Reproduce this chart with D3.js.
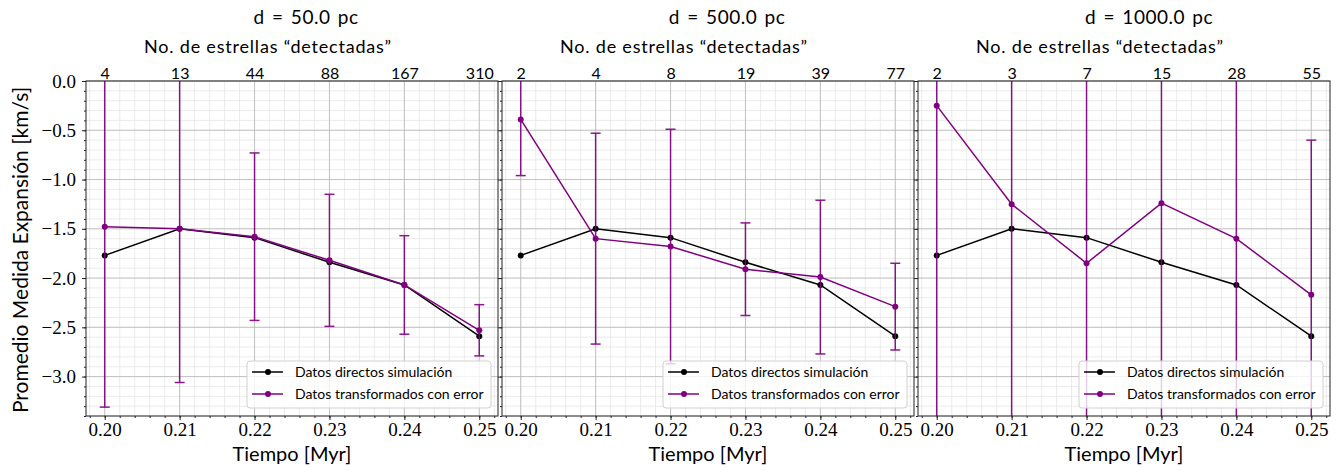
<!DOCTYPE html>
<html>
<head>
<meta charset="utf-8">
<script src="https://cdn.jsdelivr.net/npm/d3@7"></script>
<style>
  body { margin: 0; background: #fff; }
  .sans { font-family: Lato, 'Noto Sans', sans-serif; fill: #000; }
  .tick line { stroke: #222; }
</style>
</head>
<body>
<div id="chart-area"></div>
<script>
var tiempo = [0.20, 0.21, 0.22, 0.23, 0.24, 0.25]
var directos = [-1.77, -1.50, -1.59, -1.84, -2.07, -2.59]

var distancias = ['50.0', '500.0', '1000.0']

var estrellas50 = [4, 13, 44, 88, 167, 310]
var media50 = [-1.48, -1.50, -1.58, -1.82, -2.07, -2.53]
var error50 = [1.83, 1.56, 0.85, 0.67, 0.50, 0.26]

var estrellas500 = [2, 4, 8, 19, 39, 77]
var media500 = [-0.39, -1.60, -1.68, -1.91, -1.99, -2.29]
var error500 = [0.57, 1.07, 1.19, 0.47, 0.78, 0.44]

var estrellas1000 = [2, 3, 7, 15, 28, 55]
var media1000 = [-0.25, -1.25, -1.85, -1.24, -1.60, -2.17]
var error1000 = [3.6, 2.7, 2.4, 2.6, 2.3, 1.57]

var leyenda = ['Datos directos simulación', 'Datos transformados con error']

var paneles = [
	{ d: distancias[0], estrellas: estrellas50, media: media50, error: error50 },
	{ d: distancias[1], estrellas: estrellas500, media: media500, error: error500 },
	{ d: distancias[2], estrellas: estrellas1000, media: media1000, error: error1000 }
]

var margin = { top: 81, left: 86 }
var ancho = 412
var alto = 335
var paso = 416
var morado = '#800080'
var serif = "'Liberation Serif', 'DejaVu Serif', serif"
var sans = "Lato, 'Noto Sans', sans-serif"

var svg = d3.select('#chart-area').append('svg')
	.attr('width', 1344)
	.attr('height', 472)

svg.append('defs').append('clipPath').attr('id', 'clip')
	.append('rect').attr('width', ancho).attr('height', alto)

var x = d3.scaleLinear().domain([0.1975, 0.2525]).range([0, ancho])
var y = d3.scaleLinear().domain([-3.4, 0]).range([alto, 0])

var linea = d3.line().x((d, i) => x(tiempo[i])).y(d => y(d))

var dxTitulo = [14, 19, 25]

function estilo(a, familia, tam) {
	a.select('.domain').remove()
	a.attr('font-family', null).attr('font-size', null)
	a.selectAll('text').attr('font-family', familia).attr('font-size', tam).attr('fill', '#000')
}

paneles.forEach((p, k) => {
	var g = svg.append('g').attr('transform', `translate(${ margin.left + k * paso }, ${ margin.top })`)

	// rejilla menor y mayor
	g.append('g').selectAll('line').data(x.ticks(27)).enter().append('line')
		.attr('x1', d => x(d)).attr('x2', d => x(d)).attr('y1', 0).attr('y2', alto)
		.attr('stroke', '#e6e6e6').attr('stroke-width', 0.8)
	g.append('g').selectAll('line').data(y.ticks(34)).enter().append('line')
		.attr('y1', d => y(d)).attr('y2', d => y(d)).attr('x1', 0).attr('x2', ancho)
		.attr('stroke', '#e6e6e6').attr('stroke-width', 0.8)
	g.append('g').selectAll('line').data(tiempo).enter().append('line')
		.attr('x1', d => x(d)).attr('x2', d => x(d)).attr('y1', 0).attr('y2', alto)
		.attr('stroke', '#b8b8b8').attr('stroke-width', 0.8)
	g.append('g').selectAll('line').data(y.ticks(7)).enter().append('line')
		.attr('y1', d => y(d)).attr('y2', d => y(d)).attr('x1', 0).attr('x2', ancho)
		.attr('stroke', '#b8b8b8').attr('stroke-width', 0.8)

	// ejes
	g.append('g').attr('transform', `translate(0, ${ alto })`)
		.call(d3.axisBottom(x).ticks(27).tickSize(2).tickFormat('').tickSizeOuter(0))
		.call(a => estilo(a, serif, '19px'))
	g.append('g').attr('transform', `translate(0, ${ alto })`)
		.call(d3.axisBottom(x).tickValues(tiempo).tickSize(4).tickPadding(3).tickFormat(d3.format('.2f')).tickSizeOuter(0))
		.call(a => estilo(a, serif, '19px'))
	g.append('g')
		.call(d3.axisLeft(y).ticks(34).tickSize(2).tickFormat('').tickSizeOuter(0))
		.call(a => estilo(a, serif, '19px'))
	var ejeY = g.append('g')
		.call(d3.axisLeft(y).ticks(7).tickSize(4).tickPadding(6).tickFormat(d3.format('.1f')).tickSizeOuter(0))
		.call(a => estilo(a, serif, '19px'))
	if (k > 0) ejeY.selectAll('text').remove()
	g.append('g')
		.call(d3.axisTop(x).tickValues(tiempo).tickSize(0).tickPadding(2).tickFormat((d, i) => p.estrellas[i]).tickSizeOuter(0))
		.call(a => estilo(a, sans, '16px'))

	// datos
	var datos = g.append('g').attr('clip-path', 'url(#clip)')

	datos.append('path').datum(directos)
		.attr('d', linea).attr('fill', 'none').attr('stroke', '#000').attr('stroke-width', 1.5)
	datos.selectAll('.pd').data(directos).enter().append('circle').attr('class', 'pd')
		.attr('cx', (d, i) => x(tiempo[i])).attr('cy', d => y(d)).attr('r', 3).attr('fill', '#000')

	var barras = datos.selectAll('.barra').data(p.media).enter().append('g').attr('class', 'barra')
		.attr('stroke', morado).attr('stroke-width', 1.5).attr('opacity', 0.9)
	barras.append('line')
		.attr('x1', (d, i) => x(tiempo[i])).attr('x2', (d, i) => x(tiempo[i]))
		.attr('y1', (d, i) => y(d + p.error[i])).attr('y2', (d, i) => y(d - p.error[i]))
	barras.append('line')
		.attr('x1', (d, i) => x(tiempo[i]) - 5).attr('x2', (d, i) => x(tiempo[i]) + 5)
		.attr('y1', (d, i) => y(d + p.error[i])).attr('y2', (d, i) => y(d + p.error[i]))
	barras.append('line')
		.attr('x1', (d, i) => x(tiempo[i]) - 5).attr('x2', (d, i) => x(tiempo[i]) + 5)
		.attr('y1', (d, i) => y(d - p.error[i])).attr('y2', (d, i) => y(d - p.error[i]))

	datos.append('path').datum(p.media)
		.attr('d', linea).attr('fill', 'none').attr('stroke', morado).attr('stroke-width', 1.5)
	datos.selectAll('.pm').data(p.media).enter().append('circle').attr('class', 'pm')
		.attr('cx', (d, i) => x(tiempo[i])).attr('cy', d => y(d)).attr('r', 3).attr('fill', morado)

	// marco
	g.append('rect').attr('width', ancho).attr('height', alto)
		.attr('fill', 'none').attr('stroke', '#222').attr('stroke-width', 1)

	// leyenda
	var ley = g.append('g').attr('transform', `translate(${ ancho - 251 }, ${ alto - 55 })`)
	ley.append('rect').attr('width', 244).attr('height', 47).attr('rx', 3)
		.attr('fill', '#fff').attr('fill-opacity', 0.8).attr('stroke', '#d0d0d0')
	var colores = ['#000', morado]
	leyenda.forEach((t, j) => {
		var fila = ley.append('g').attr('transform', `translate(0, ${ 11 + j * 22 })`)
		fila.append('line').attr('x1', 5).attr('x2', 36).attr('stroke', colores[j]).attr('stroke-width', 1.5)
		fila.append('circle').attr('cx', 21).attr('r', 3).attr('fill', colores[j])
		fila.append('text').attr('class', 'sans').attr('x', 48).attr('dy', '0.35em')
			.attr('font-size', '14px').text(t)
	})

	// textos
	g.append('text').attr('class', 'sans')
		.attr('x', ancho / 2 + dxTitulo[k]).attr('y', 24 - margin.top)
		.attr('text-anchor', 'middle').attr('font-size', '19px')
		.attr('letter-spacing', '0.5px').attr('word-spacing', '2px')
		.text(`d = ${ p.d } pc`)
	g.append('text').attr('class', 'sans')
		.attr('x', ancho / 2 - 24).attr('y', 53 - margin.top)
		.attr('text-anchor', 'middle').attr('font-size', '18px')
		.attr('letter-spacing', '0.8px')
		.text('No. de estrellas “detectadas”')
	g.append('text').attr('class', 'sans')
		.attr('x', ancho / 2).attr('y', 461 - margin.top)
		.attr('text-anchor', 'middle').attr('font-size', '20px')
		.text('Tiempo [Myr]')
})

svg.append('text').attr('class', 'sans')
	.attr('transform', `translate(28, 250) rotate(-90)`)
	.attr('text-anchor', 'middle').attr('font-size', '21px')
	.text('Promedio Medida Expansión [km/s]')
</script>
</body>
</html>
